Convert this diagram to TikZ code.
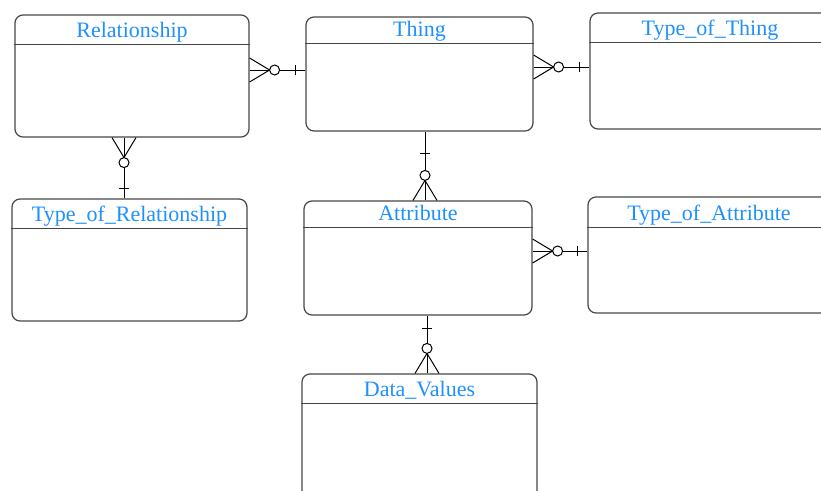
\documentclass[tikz,border=0pt]{standalone}
\usepackage{fontspec}
\setmainfont{Liberation Serif}
\usepackage{xcolor}
\usetikzlibrary{decorations.markings, positioning}

\definecolor{titleblue}{RGB}{30,144,255}
\definecolor{boxgray}{RGB}{70,70,70}

\tikzset{
    entity/.style={draw=boxgray, line width=1.2pt, rounded corners=8pt, inner sep=0pt},
    entitytitle/.style={text=titleblue, font=\fontsize{22}{24}\selectfont, inner sep=0pt, anchor=base},
    headline/.style={draw=boxgray, line width=1.2pt},
    onemany/.style={draw, line width=1pt, postaction={decorate}, decoration={markings,
        mark=at position #1 with {\draw (0,-5) -- (0,5);},
        mark=at position -25pt with {\draw[fill=white] (0,0) circle (5);},
        mark=at position 1 with {\draw (-20,0) -- (0,12) (-20,0) -- (0,-12);}}},
    onemany/.default=10pt
}

\begin{document}
\begin{tikzpicture}[x=1pt, y=-1pt]

    \useasboundingbox (0,0) rectangle (821,490);
    \clip (0,0) rectangle (821,490);

    % Entities: name/x/y/width/height/header/title
    \foreach \n/\x/\y/\w/\h/\hd/\t in {
        rel/132/76/234/122/30/Relationship,
        thing/419.5/74/227/114/27/Thing,
        tot/710/71/240/116/30/Type\_of\_Thing,
        trel/129.5/260/235/122/30/Type\_of\_Relationship,
        attr/418/258/228/114/27/Attribute,
        toa/709/255/242/116/31/Type\_of\_Attribute,
        data/419.5/439/235/130/30/Data\_Values}
    {
        \node[entity, minimum width=\w, minimum height=\h] (\n) at (\x,\y) {};
        \node[entitytitle] (\n-t) at ([yshift=-\hd pt+7pt]\n.north) {\t};
        \draw[headline] ([yshift=-\hd pt]\n.north west) -- ([yshift=-\hd pt]\n.north east);
    }

    % Relationships
    \coordinate (rt) at ([yshift=4pt]thing.west);
    \draw[onemany] (rt) -- (rt -| rel.east);

    \coordinate (tt) at ([yshift=4pt]tot.west);
    \draw[onemany] (tt) -- (tt -| thing.east);

    \coordinate (tr) at ([xshift=-5.5pt]trel.north);
    \draw[onemany] (tr) -- (tr |- rel.south);

    \coordinate (ta) at ([xshift=5.5pt]thing.south);
    \draw[onemany=22pt] (ta) -- (ta |- attr.north);

    \coordinate (at) at ([yshift=4pt]toa.west);
    \draw[onemany] (at) -- (at -| attr.east);

    \coordinate (ad) at ([xshift=9pt]attr.south);
    \draw[onemany=13pt] (ad) -- (ad |- data.north);

\end{tikzpicture}
\end{document}
